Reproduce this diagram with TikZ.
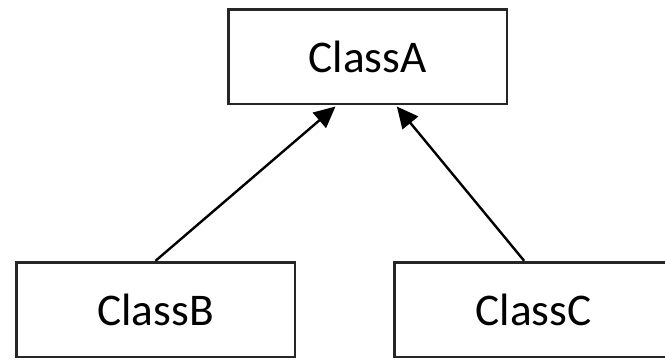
\documentclass[tikz,border=0pt]{standalone}
\usepackage{fontspec}
\setmainfont{Carlito}
\usetikzlibrary{arrows.meta}
\begin{document}
\begin{tikzpicture}[x=0.75pt,y=-0.75pt,
  cls/.style={draw=black!85, line width=2pt, minimum width=209pt, minimum height=71pt, inner sep=0pt, font=\fontsize{34}{40}\selectfont, fill=white},
  inh/.style={line width=1.8pt, -{Triangle[length=16pt,width=15pt]}}]
\path[use as bounding box, clip] (0,0) rectangle (665,361);
\fill[white] (0,0) rectangle (665,361);
\node[cls] (A) at (367.5,56.5) {ClassA};
\node[cls] (B) at (155.5,309.5) {ClassB};
\node[cls] (C) at (533.5,309.5) {ClassC};
\draw[inh] (B.north) -- ([xshift=-24pt,yshift=-1pt]A.south);
\draw[inh] ([xshift=-7pt]C.north) -- ([xshift=22pt,yshift=-1pt]A.south);
\end{tikzpicture}
\end{document}
